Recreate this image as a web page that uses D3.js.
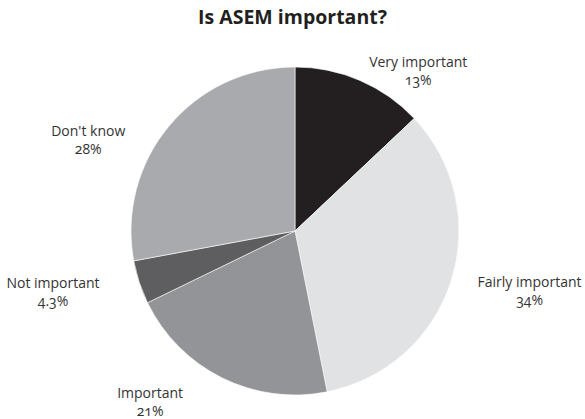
<!DOCTYPE html>
<html>
<head>
<meta charset="utf-8">
<script src="https://cdn.jsdelivr.net/npm/d3@7"></script>
<style>
  html, body { margin: 0; padding: 0; background: #fff; }
  svg { display: block; }
  text { font-family: "Open Sans", "DejaVu Sans", sans-serif; font-variant-numeric: oldstyle-nums; }
</style>
</head>
<body>
<svg id="chart" width="585" height="419"></svg>
<script>
const categories = ["Very important", "Fairly important", "Important", "Not important", "Don't know"];
const values = [13, 34, 21, 4.3, 28];
const valueLabels = ["13%", "34%", "21%", "4.3%", "28%"];
const colors = ["#231f20", "#e1e2e4", "#939497", "#5e5e60", "#a9aaad"];
const titleText = "Is ASEM important?";

const width = 585, height = 419;
const cx = 295, cy = 231, radius = 164;
// label block shift relative to outer centroid (layout only)
const labelShift = [[44, 23], [44, -2], [-56, -9], [-52, -3], [-53, 36]];

const svg = d3.select("#chart");

svg.append("text")
  .attr("x", width / 2)
  .attr("y", 24)
  .attr("text-anchor", "middle")
  .attr("font-size", 19.5)
  .attr("font-weight", "bold")
  .attr("fill", "#231f20")
  .text(titleText);

const data = categories.map((c, i) => ({ name: c, value: values[i], label: valueLabels[i], color: colors[i], i }));

const pie = d3.pie().value(d => d.value).sort(null);
const arc = d3.arc().innerRadius(0).outerRadius(radius);
const labelArc = d3.arc().innerRadius(200).outerRadius(200);

const g = svg.append("g").attr("transform", `translate(${cx},${cy})`);
const arcs = pie(data);

g.selectAll("path.slice")
  .data(arcs)
  .join("path")
  .attr("class", "slice")
  .attr("d", arc)
  .attr("fill", d => d.data.color)
  .attr("stroke", "#ffffff")
  .attr("stroke-width", 0.6);

const lab = g.selectAll("g.lab")
  .data(arcs)
  .join("g")
  .attr("class", "lab")
  .attr("transform", d => {
    const c = labelArc.centroid(d);
    const s = labelShift[d.data.i];
    return `translate(${c[0] + s[0]},${c[1] + s[1]})`;
  });

lab.append("text")
  .attr("text-anchor", "middle")
  .attr("y", -3)
  .attr("font-size", 14)
  .attr("fill", "#333333")
  .text(d => d.data.name);

lab.append("text")
  .attr("text-anchor", "middle")
  .attr("y", 15)
  .attr("font-size", 14)
  .attr("fill", "#333333")
  .text(d => d.data.label);
</script>
</body>
</html>
